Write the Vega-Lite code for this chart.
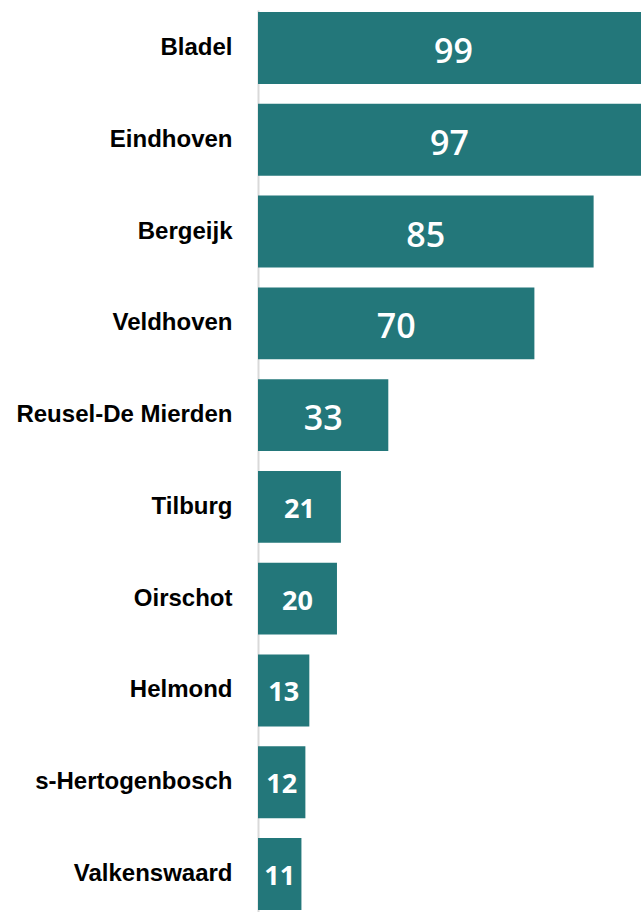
{
  "$schema": "https://vega.github.io/schema/vega-lite/v6.json",
  "autosize": {"type": "none"},
  "padding": {"left": 258, "top": 10, "right": 0, "bottom": 0},
  "width": 383,
  "height": 902,
  "background": "white",
  "config": {"view": {"stroke": null}},
  "data": {
    "values": [
      {"gemeente": "Bladel", "aantal": 99},
      {"gemeente": "Eindhoven", "aantal": 97},
      {"gemeente": "Bergeijk", "aantal": 85},
      {"gemeente": "Veldhoven", "aantal": 70},
      {"gemeente": "Reusel-De Mierden", "aantal": 33},
      {"gemeente": "Tilburg", "aantal": 21},
      {"gemeente": "Oirschot", "aantal": 20},
      {"gemeente": "Helmond", "aantal": 13},
      {"gemeente": "s-Hertogenbosch", "aantal": 12},
      {"gemeente": "Valkenswaard", "aantal": 11}
    ]
  },
  "encoding": {
    "y": {
      "field": "gemeente",
      "type": "nominal",
      "sort": null,
      "scale": {"paddingInner": 0.217, "paddingOuter": 0.022},
      "axis": {
        "title": null,
        "ticks": false,
        "labelPadding": 26,
        "labelFont": "Liberation Sans",
        "labelFontWeight": "bold",
        "labelFontSize": 24,
        "labelColor": "#000000",
        "domainColor": "#d9d9d9",
        "domainWidth": 2,
        "labelLimit": 300
      }
    }
  },
  "layer": [
    {
      "mark": {"type": "bar", "color": "#23777a", "clip": true},
      "encoding": {
        "x": {
          "field": "aantal",
          "type": "quantitative",
          "scale": {"domain": [0, 97], "nice": false},
          "axis": null
        }
      }
    },
    {
      "transform": [{"filter": "datum.aantal >= 30"}, {"calculate": "datum.aantal / 2", "as": "midden"}],
      "mark": {"type": "text", "color": "white", "font": "Open Sans", "fontWeight": 600, "fontSize": 34, "align": "center", "baseline": "middle", "dy": 5},
      "encoding": {
        "x": {"field": "midden", "type": "quantitative"},
        "text": {"field": "aantal", "type": "quantitative"}
      }
    },
    {
      "transform": [{"filter": "datum.aantal < 30"}, {"calculate": "datum.aantal / 2", "as": "midden"}],
      "mark": {"type": "text", "color": "white", "font": "Open Sans", "fontWeight": "bold", "fontSize": 27, "align": "center", "baseline": "middle", "dy": 3},
      "encoding": {
        "x": {"field": "midden", "type": "quantitative"},
        "text": {"field": "aantal", "type": "quantitative"}
      }
    }
  ]
}
